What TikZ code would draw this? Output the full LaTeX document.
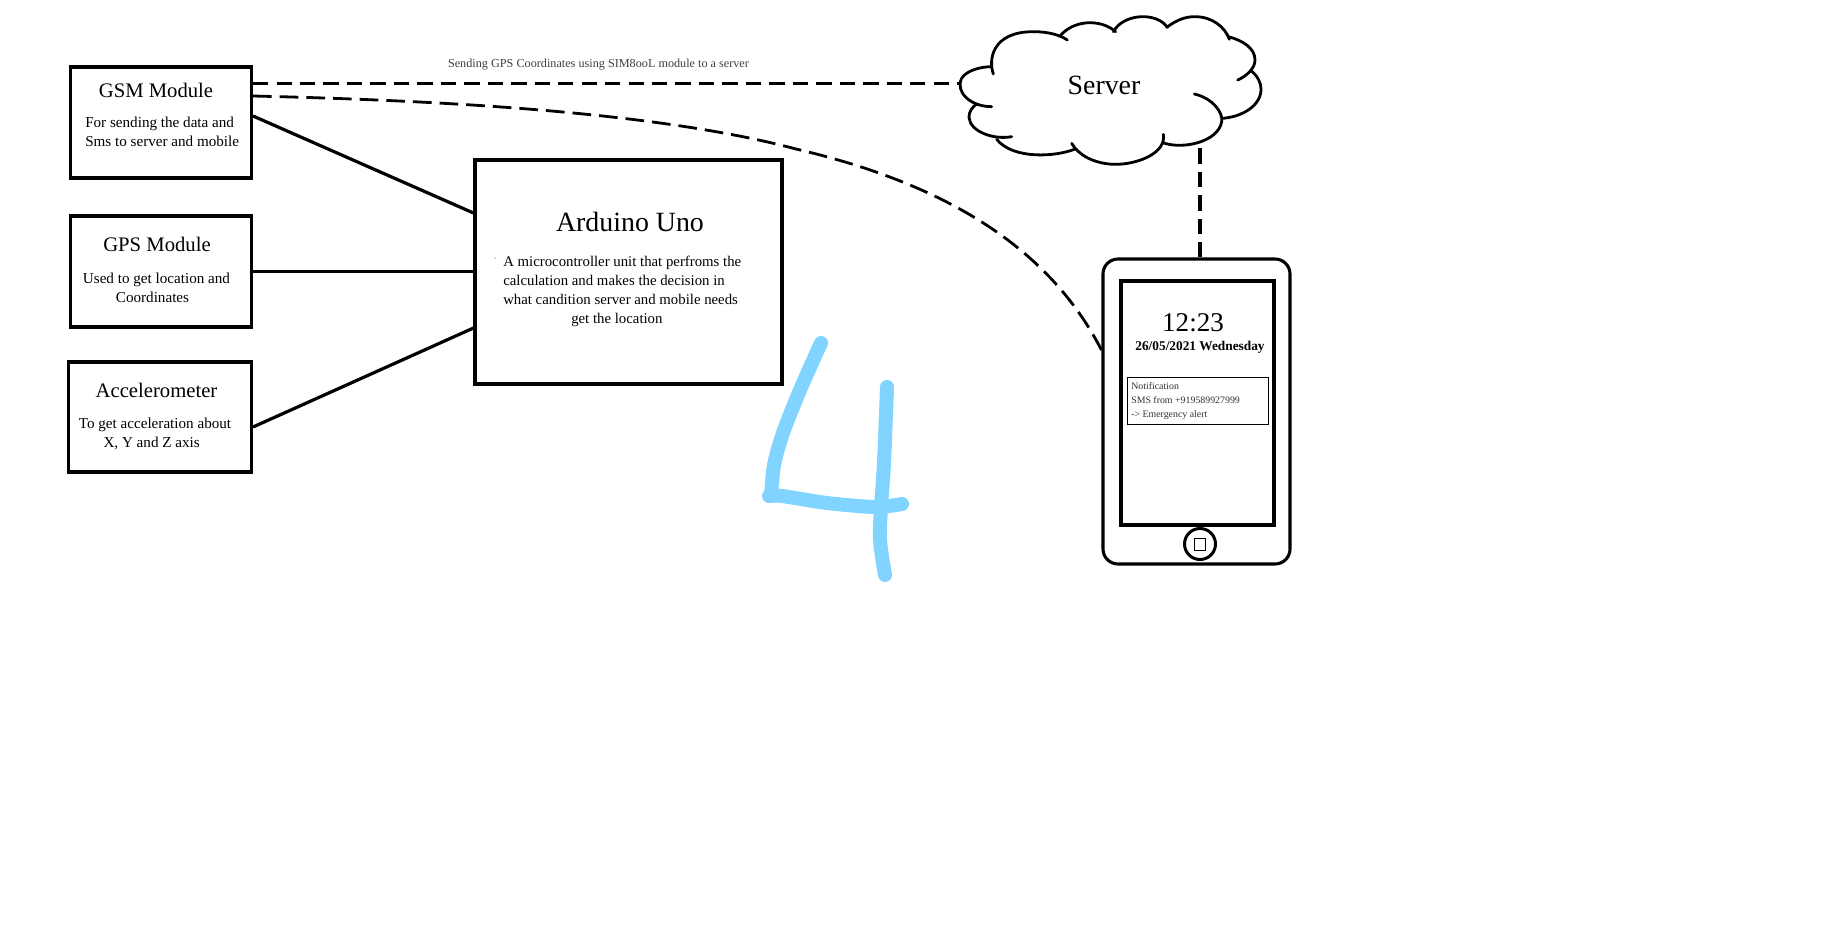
\documentclass[tikz,border=0pt]{standalone}
\usepackage{fontspec}
\setmainfont{Liberation Serif}
\tikzset{
  px/.style={x=0.75pt,y=-0.75pt},
  box/.style={draw=black,line width=2.3pt,rectangle,inner sep=0pt,fill=none},
  wire/.style={draw=black,line width=2.4pt},
  dashwire/.style={draw=black,line width=2.6pt,dash pattern=on 11.5pt off 6.1pt},
  dashcurve/.style={draw=black,line width=2.1pt,dash pattern=on 14pt off 6pt},
  cloudline/.style={draw=black,line width=2.1pt,line cap=round},
  titletext/.style={inner sep=0pt,anchor=mid,font=\fontsize{15.5}{18}\selectfont,text=black},
  bodytext/.style={inner sep=0pt,font=\fontsize{11.35}{14.25}\selectfont,text=black},
  ardtext/.style={inner sep=0pt,font=\fontsize{11.1}{14.25}\selectfont,text=black},
  bigtext/.style={inner sep=0pt,anchor=mid,font=\fontsize{20.9}{24}\selectfont,text=black},
  smalltext/.style={inner sep=0pt,font=\fontsize{7.4}{10.5}\selectfont,text=black!80},
  penstroke/.style={draw={rgb,255:red,128;green,212;blue,255},line width=10.5pt,line cap=round,line join=round},
}
\begin{document}
\begin{tikzpicture}[px]
\useasboundingbox[fill=white] (0,0) rectangle (1834,946);
% boxes
\node[box,minimum width=181*0.75pt,minimum height=111*0.75pt] (gsm) at (161,122.5) {};
\node[box,minimum width=181*0.75pt,minimum height=111*0.75pt] (gps) at (161,271.5) {};
\node[box,minimum width=183*0.75pt,minimum height=110*0.75pt] (acc) at (160,417) {};
\node[box,minimum width=307*0.75pt,minimum height=224*0.75pt] (ard) at (628.5,272) {};
% texts
\node[titletext] (gsmT) at (156,94) {GSM Module};
\node[bodytext,anchor=west,align=left] (gsmB) at (85,131.5) {For sending the data and\\Sms to server and mobile};
\node[titletext] (gpsT) at (157,248) {GPS Module};
\node[bodytext,anchor=center,align=center] (gpsB) at (156.5,288) {Used to get location and\\Coordinates\hspace*{6pt}};
\node[titletext] (accT) at (156.5,394.5) {Accelerometer};
\node[bodytext,anchor=center,align=center] (accB) at (155,434) {To get acceleration about\\X, Y and Z axis\hspace*{5pt}};
\node[bigtext] (ardT) at (630,228) {Arduino Uno};
\node[ardtext,anchor=west,align=left] (ardB) at (503,291) {A microcontroller unit that perfroms the\\calculation and makes the decision in\\what candition server and mobile needs\\\hspace*{51pt}get the location};
\fill[black!70] (495,258) circle (0.4pt);
\node[inner sep=0pt,anchor=mid,font=\fontsize{9.15}{11}\selectfont,text=black!75] (cap) at (598.5,64) {Sending GPS Coordinates using SIM8ooL module to a server};
% server cloud
\begin{scope}[shift={(950,0)},x=0.25pt,y=-0.25pt,cloudline]
\draw (130,222) .. controls (115,180) and (125,95) .. (250,95) .. controls (295,95) and (330,105) .. (352,120);
\draw (330,108) .. controls (370,60) and (450,55) .. (497,95);
\draw (490,95) .. controls (520,40) and (620,35) .. (652,82);
\draw (650,82) .. controls (680,60) and (705,50) .. (735,50) .. controls (785,50) and (825,80) .. (838,118);
\draw (835,110) .. controls (880,122) and (915,145) .. (915,180) .. controls (915,205) and (890,228) .. (863,240);
\draw (903,212) .. controls (925,230) and (933,250) .. (933,268) .. controls (933,315) and (880,350) .. (818,355);
\draw (733,282) .. controls (790,295) and (820,340) .. (815,365) .. controls (805,425) and (700,450) .. (638,428);
\draw (640,403) .. controls (650,460) and (560,495) .. (490,493) .. controls (430,490) and (385,465) .. (365,430);
\draw (375,447) .. controls (320,470) and (190,480) .. (140,418);
\draw (185,410) .. controls (130,420) and (60,395) .. (57,352) .. controls (56,335) and (68,320) .. (80,312);
\draw (125,320) .. controls (60,320) and (15,275) .. (35,235) .. controls (50,210) and (95,200) .. (125,200);
\coordinate (cloudL) at (30,250);
\coordinate (cloudB) at (750,428);
\end{scope}
\node[bigtext] (server) at (1104,91) {Server};
% phone
\node[box,rounded corners=15*0.75pt,minimum width=187*0.75pt,minimum height=305*0.75pt] (phone) at (1196.5,411.5) {};
\node[box,minimum width=153*0.75pt,minimum height=244*0.75pt] (screen) at (1197.5,403) {};
\node[draw=black,line width=2.25pt,circle,inner sep=0pt,minimum size=31*0.75pt] (home) at (1200,544) {};
\node[draw=black,line width=0.9pt,rectangle,inner sep=0pt,minimum size=11.5*0.75pt] (homeSq) at (1200,544.5) {};
\node[inner sep=0pt,anchor=mid,font=\fontsize{20.3}{22}\selectfont,text=black] (clock) at (1193,328) {12:23};
\node[inner sep=0pt,anchor=mid,font=\fontsize{10}{12}\selectfont\bfseries,text=black] (date) at (1200,347.5) {26/05/2021 Wednesday};
\node[draw=black,line width=0.75pt,rectangle,inner sep=0pt,minimum width=141*0.75pt,minimum height=47*0.75pt] (notif) at (1197.5,400.5) {};
\node[smalltext,anchor=west,align=left] (notifT) at (1131,401.5) {Notification\\SMS from +919589927999\\-> Emergency alert};
% connectors
\draw[wire] ([yshift=6.5*0.75pt]gsm.east) -- ([yshift=59*0.75pt]ard.west);
\draw[wire] (gps.east) -- ([xshift=2*0.75pt]gps.east -| ard.west);
\draw[wire] ([yshift=-10*0.75pt]acc.east) -- ([yshift=-56*0.75pt]ard.west);
\draw[dashwire] (gsm.east |- cloudL) -- (cloudL);
\draw[dashcurve] ([yshift=26.5*0.75pt]gsm.east) .. controls (420,100) and (650,110) .. (796,149) .. controls (950,185) and (1050,250) .. ([yshift=61.5*0.75pt]phone.west);
\draw[dashwire] (cloudB |- phone.north) -- (cloudB);
% hand-drawn 4
\draw[penstroke] plot[smooth,tension=.5] coordinates {(821,343) (800,390) (783,433) (774,465) (771,496)};
\draw[penstroke] plot[smooth,tension=.5] coordinates {(769,496) (782,496) (827,503) (875,507) (902,504)};
\draw[penstroke] plot[smooth,tension=.5] coordinates {(887,387) (884,463) (881,507) (880,540) (885,575)};
\end{tikzpicture}
\end{document}
